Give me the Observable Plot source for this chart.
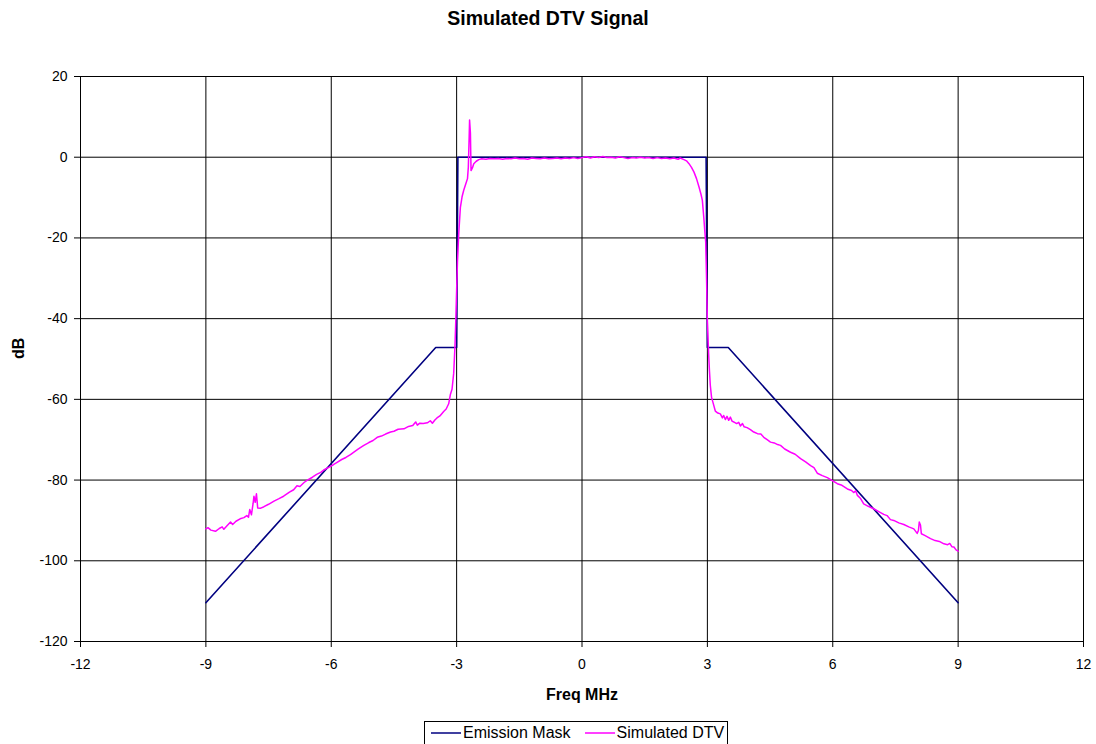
<!DOCTYPE html>
<html>
<head>
<meta charset="utf-8">
<script src="https://cdn.jsdelivr.net/npm/d3@7"></script>
<script src="https://cdn.jsdelivr.net/npm/@observablehq/plot@0.6"></script>
<style>
  body { margin: 0; background: #fff; font-family: "Liberation Sans", Arial, sans-serif; position: relative; width: 1096px; height: 744px; overflow: hidden; }
  #title { position: absolute; left: 0; top: 0; width: 1096px; height: 36px; text-align: center; font-weight: bold; font-size: 19.5px; line-height: 36px; color: #000; }
  #chart { position: absolute; left: 0; top: 36px; }
  #legend { position: absolute; left: 424px; top: 721px; }
  #legend .box { border: 1px solid #000; height: 22px; display: flex; align-items: center; padding: 0 3px 0 6px; font-size: 16px; color: #000; white-space: nowrap; }
  #legend .item { display: flex; align-items: center; margin-right: 14px; }
  #legend .item:last-child { margin-right: 0; }
  #legend svg { margin-right: 2px; }
</style>
</head>
<body>
<div id="title">Simulated DTV Signal</div>
<div id="chart"></div>
<div id="legend"></div>
<script>
// ---- data ----
const seriesNames = ["Emission Mask", "Simulated DTV"];
const seriesColors = ["#000080", "#FF00FF"];

const xTicks = [-12, -9, -6, -3, 0, 3, 6, 9, 12];
const yTicks = [-120, -100, -80, -60, -40, -20, 0, 20];

const maskFreq = [-9, -3.5, -3, -2.97, 2.97, 3, 3.5, 9];
const maskDb   = [-110.4, -47.15, -47.15, 0, 0, -47.15, -47.15, -110.4];

const dtvFreq = [
  -9.00,-8.95,-8.88,-8.77,-8.68,-8.61,-8.57,-8.50,-8.41,-8.36,-8.28,-8.18,-8.09,-8.02,-7.98,-7.95,-7.91,-7.87,-7.85,-7.82,-7.79,-7.76,-7.70,-7.61,-7.50,-7.37,-7.25,-7.14,-7.00,-6.90,-6.82,-6.75,-6.65,-6.58,-6.45,-6.35,-6.25,-6.18,-6.05,-5.95,-5.86,-5.75,-5.65,-5.54,-5.45,-5.35,-5.22,-5.10,-5.00,-4.90,-4.80,-4.70,-4.58,-4.50,-4.40,-4.26,-4.15,-4.05,-3.98,-3.94,-3.88,-3.80,-3.70,-3.63,-3.58,-3.52,-3.47,-3.40,-3.31,-3.25,-3.19,-3.15,-3.11,-3.07,-3.04,-3.02,-3.00,-2.98,-2.95,-2.91,-2.87,-2.83,-2.78,-2.74,-2.72,-2.70,-2.69,-2.67,-2.655,-2.62,-2.59,-2.53,-2.47,-2.40,
  -2.3,-2.2,-2.1,-2.0,-1.9,-1.8,-1.7,-1.6,-1.5,-1.4,-1.3,-1.2,-1.1,-1.0,-0.9,-0.8,-0.7,-0.6,-0.5,-0.4,-0.3,-0.2,-0.1,0,0.1,0.2,0.3,0.4,0.5,0.6,0.7,0.8,0.9,1.0,1.1,1.2,1.3,1.4,1.5,1.6,1.7,1.8,1.9,2.0,2.1,2.2,2.3,2.35,2.44,
  2.50,2.56,2.62,2.68,2.74,2.80,2.85,2.88,2.915,2.94,2.96,2.98,3.00,3.02,3.03,3.05,3.07,3.10,3.14,3.19,3.25,3.31,3.36,3.39,3.43,3.47,3.51,3.55,3.59,3.63,3.70,3.75,3.79,3.84,3.88,3.95,4.03,4.11,4.20,4.28,4.35,4.43,4.51,4.60,4.68,4.75,4.85,4.99,5.10,5.23,5.35,5.47,5.55,5.63,5.75,5.87,6.00,6.11,6.22,6.35,6.45,6.50,6.55,6.59,6.66,6.74,6.85,6.98,7.10,7.22,7.30,7.38,7.46,7.58,7.70,7.82,7.94,8.02,8.05,8.07,8.10,8.12,8.20,8.34,8.45,8.55,8.66,8.75,8.80,8.85,8.90,8.95,9.00
];
const dtvDb = [
  -92.1,-91.8,-92.4,-92.7,-92.0,-91.6,-92.2,-91.4,-90.4,-91.0,-90.2,-89.6,-89.3,-88.8,-89.2,-87.3,-88.6,-85.8,-84.0,-85.5,-83.4,-86.9,-87.0,-86.6,-86.0,-85.2,-84.6,-84.0,-83.0,-82.4,-81.4,-81.6,-80.6,-80.1,-79.3,-78.6,-78.1,-77.5,-76.8,-76.2,-75.6,-74.9,-74.4,-73.7,-73.0,-72.3,-71.4,-70.7,-70.2,-69.4,-69.1,-68.6,-68.1,-67.9,-67.4,-67.3,-66.7,-66.5,-65.6,-66.4,-65.9,-66.0,-65.8,-65.3,-65.9,-65.1,-64.6,-64.1,-63.0,-62.4,-61.1,-58.8,-57.5,-53.5,-47.0,-40.5,-33.0,-26.0,-19.0,-12.4,-9.8,-8.2,-6.6,-5.3,-2.5,5.0,9.2,6.0,-3.3,-2.6,-1.6,-1.0,-0.6,-0.4,
  -0.5,-0.3,-0.4,-0.3,-0.5,-0.3,-0.4,-0.2,-0.4,-0.3,-0.5,-0.2,-0.3,-0.4,-0.2,-0.4,-0.3,-0.2,-0.4,-0.2,-0.3,-0.1,-0.3,-0.1,0.1,-0.2,0.1,-0.1,0.2,-0.1,0.0,-0.2,0.1,-0.1,-0.3,-0.1,-0.2,0.0,-0.2,-0.1,-0.3,-0.1,-0.3,-0.2,-0.4,-0.2,-0.5,-0.2,-0.6,
  -0.9,-1.6,-2.5,-3.7,-5.3,-7.4,-9.3,-10.7,-15.0,-18.5,-21.0,-30.0,-40.5,-46.0,-48.7,-53.0,-56.5,-59.5,-61.0,-62.9,-63.4,-63.6,-64.6,-64.0,-65.0,-64.2,-65.2,-64.4,-65.4,-65.6,-66.0,-65.7,-66.6,-66.0,-66.8,-67.0,-67.5,-68.1,-68.5,-68.6,-69.4,-70.0,-70.6,-70.8,-71.2,-71.4,-72.3,-73.1,-73.6,-74.7,-75.5,-76.4,-76.9,-78.3,-78.9,-79.4,-80.2,-80.9,-81.3,-82.2,-82.6,-83.1,-82.7,-83.8,-84.5,-85.9,-86.5,-87.1,-87.8,-88.5,-88.8,-89.8,-90.0,-90.6,-91.0,-91.6,-92.1,-93.2,-92.5,-90.4,-91.2,-93.3,-93.7,-94.5,-95.0,-95.2,-95.8,-96.0,-95.7,-96.5,-96.6,-97.3,-97.6
];

// ---- build tables ----
const mask = maskFreq.map((f, i) => ({f, db: maskDb[i]}));
const dtv = dtvFreq.map((f, i) => ({f, db: dtvDb[i]}));
const fmt = d => String(d);

const chart = Plot.plot({
  width: 1096,
  height: 675,
  marginLeft: 80,
  marginRight: 13,
  marginTop: 40,
  marginBottom: 70,
  style: {fontFamily: "'Liberation Sans', Arial, sans-serif", fontSize: "14px", color: "#000", background: "#fff"},
  x: {domain: [-12, 12], ticks: xTicks, label: null},
  y: {domain: [-120, 20], ticks: yTicks, label: null},
  marks: [
    Plot.gridX(xTicks, {stroke: "#000", strokeOpacity: 1, strokeWidth: 1}),
    Plot.gridY(yTicks, {stroke: "#000", strokeOpacity: 1, strokeWidth: 1}),
    Plot.axisX(xTicks, {tickSize: 6, tickPadding: 12, tickFormat: fmt, stroke: "#000", fill: "#000", fontSize: 14, label: null}),
    Plot.axisY(yTicks, {tickSize: 6, tickPadding: 7, tickFormat: fmt, stroke: "#000", fill: "#000", fontSize: 14, label: null}),
    Plot.line(mask, {x: "f", y: "db", stroke: seriesColors[0], strokeWidth: 1.6}),
    Plot.line(dtv, {x: "f", y: "db", stroke: seriesColors[1], strokeWidth: 1.5}),
    Plot.text(["dB"], {frameAnchor: "left", dx: -62, rotate: -90, text: d => d, fontWeight: "bold", fontSize: 16, fill: "#000"}),
    Plot.text(["Freq MHz"], {frameAnchor: "bottom", dy: 53, text: d => d, fontWeight: "bold", fontSize: 16, fill: "#000", lineAnchor: "middle", textAnchor: "middle"})
  ]
});
document.getElementById("chart").appendChild(chart);

// ---- legend ----
const box = document.createElement("div");
box.className = "box";
seriesNames.forEach((name, i) => {
  const item = document.createElement("div");
  item.className = "item";
  item.innerHTML = `<svg width="30" height="4"><line x1="0" y1="2" x2="30" y2="2" stroke="${seriesColors[i]}" stroke-width="1.5"/></svg><span>${name}</span>`;
  box.appendChild(item);
});
document.getElementById("legend").appendChild(box);
</script>
</body>
</html>
